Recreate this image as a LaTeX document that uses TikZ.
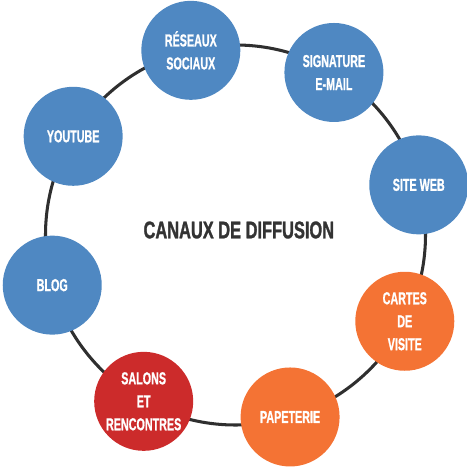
\documentclass[tikz,border=0pt]{standalone}
\usepackage{fontspec}
\setmainfont{Liberation Sans}
\newfontfamily\bubblefont[FakeStretch=0.62,FakeBold=0.8]{Liberation Sans}
\newfontfamily\titlefont[FakeStretch=0.68,FakeBold=1.2]{Liberation Sans}
\usepackage{tikz}
\usetikzlibrary{calc,positioning}
\definecolor{bubbleblue}{HTML}{4F88C2}
\definecolor{bubbleorange}{HTML}{F47334}
\definecolor{bubblered}{HTML}{CC2B2B}
\definecolor{ringgray}{HTML}{2F2F2F}
\definecolor{titlegray}{HTML}{333333}

\begin{document}
\begin{tikzpicture}[
    bubble/.style={circle, fill=#1, draw=none, minimum size=2.97cm, inner sep=0pt,
        text=white, align=center, font=\bubblefont\bfseries\fontsize{14.8}{19.6}\selectfont}
    ]
                \def\R{5.7}
                \useasboundingbox (-7.065,-6.96) rectangle (6.945,7.05);
                \coordinate (o) at (0,0);
                %Ring
                \draw[ringgray, line width=2.6pt] (o) circle(\R);
                %Title
                \node[text=titlegray, font=\titlefont\bfseries\fontsize{20.6}{24}\selectfont] (title) at (0.1,0.15) {CANAUX DE DIFFUSION};
                %Bubbles
                \node[bubble=bubbleblue] (reseaux) at (103.6:\R) {RÉSEAUX\\SOCIAUX};
                \node[bubble=bubbleblue] (signature) at (58.8:\R) {SIGNATURE\\E-MAIL};
                \node[bubble=bubbleblue] (siteweb) at (15.3:\R) {SITE WEB};
                \node[bubble=bubbleorange] (cartes) at (-27:\R) {CARTES\\DE\\VISITE};
                \node[bubble=bubbleorange] (papeterie) at (-73.3:\R) {PAPETERIE};
                \node[bubble=bubblered] (salons) at (-118.9:\R) {SALONS\\ET\\RENCONTRES};
                \node[bubble=bubbleblue] (blog) at (-164.7:\R) {BLOG};
                \node[bubble=bubbleblue] (youtube) at (148.7:\R) {YOUTUBE};
\end{tikzpicture}
\end{document}
